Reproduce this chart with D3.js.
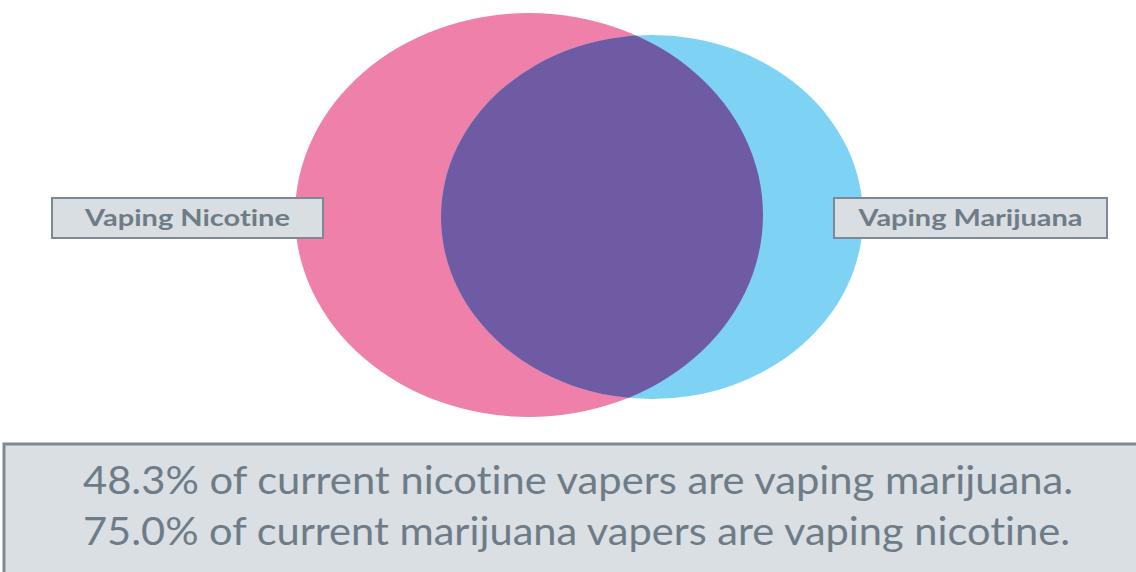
<!DOCTYPE html>
<html>
<head>
<meta charset="utf-8">
<script src="https://cdn.jsdelivr.net/npm/d3@7"></script>
<style>
  html, body { margin: 0; padding: 0; background: #ffffff; }
  svg { display: block; }
  text { font-variant-ligatures: none; font-feature-settings: "liga" 0, "clig" 0; }
</style>
</head>
<body>
<svg id="chart" width="1136" height="572"></svg>
<script>
// ---- data ----
const setNames = ["Vaping Nicotine", "Vaping Marijuana"];
const setColors = ["#EE80AA", "#7ED3F5"];
const overlapColor = "#6F5BA4";
const overlapPercents = [48.3, 75.0];
const statementSubjects = ["nicotine", "marijuana"];
const statementObjects = ["marijuana", "nicotine"];

// ---- layout ----
const svg = d3.select("#chart");
const W = 1136, H = 572;

// ellipse geometry for the two sets (layout only)
const ellipses = [
  { cx: 529, cy: 215, rx: 234, ry: 202 },
  { cx: 652, cy: 217, rx: 211, ry: 182 }
];

const defs = svg.append("defs");
defs.append("clipPath").attr("id", "clipA")
  .append("ellipse")
  .attr("cx", ellipses[0].cx).attr("cy", ellipses[0].cy)
  .attr("rx", ellipses[0].rx).attr("ry", ellipses[0].ry);

const g = svg.append("g");
g.selectAll("ellipse.set")
  .data(setNames)
  .join("ellipse")
  .attr("class", "set")
  .attr("cx", (d, i) => ellipses[i].cx)
  .attr("cy", (d, i) => ellipses[i].cy)
  .attr("rx", (d, i) => ellipses[i].rx)
  .attr("ry", (d, i) => ellipses[i].ry)
  .attr("fill", (d, i) => setColors[i]);

// overlap region = set B clipped by set A
g.append("ellipse")
  .attr("cx", ellipses[1].cx).attr("cy", ellipses[1].cy)
  .attr("rx", ellipses[1].rx).attr("ry", ellipses[1].ry)
  .attr("clip-path", "url(#clipA)")
  .attr("fill", overlapColor);

// label boxes
const labelBoxes = [
  { x: 52, y: 198, w: 271, h: 40, tw: 205 },
  { x: 834, y: 198, w: 273, h: 40, tw: 224 }
];
const lab = svg.selectAll("g.lab")
  .data(setNames)
  .join("g").attr("class", "lab");
lab.append("rect")
  .attr("x", (d, i) => labelBoxes[i].x)
  .attr("y", (d, i) => labelBoxes[i].y)
  .attr("width", (d, i) => labelBoxes[i].w)
  .attr("height", (d, i) => labelBoxes[i].h)
  .attr("fill", "#D9DEE2")
  .attr("stroke", "#7D8A95")
  .attr("stroke-width", 2);
lab.append("text")
  .attr("x", (d, i) => labelBoxes[i].x + labelBoxes[i].w / 2)
  .attr("y", (d, i) => labelBoxes[i].y + labelBoxes[i].h / 2 + 8)
  .attr("text-anchor", "middle")
  .attr("textLength", (d, i) => labelBoxes[i].tw)
  .attr("lengthAdjust", "spacingAndGlyphs")
  .attr("font-family", "Lato, 'Open Sans', sans-serif")
  .attr("font-weight", "bold")
  .attr("font-size", 22)
  .attr("fill", "#6E7C87")
  .text(d => d);

// bottom statement box
svg.append("rect")
  .attr("x", 4).attr("y", 444)
  .attr("width", W + 10).attr("height", 200)
  .attr("fill", "#D9DFE3")
  .attr("stroke", "#7D8A95")
  .attr("stroke-width", 3);

const fmt = d3.format(".1f");
const statements = overlapPercents.map((p, i) =>
  `${fmt(p)}% of current ${statementSubjects[i]} vapers are vaping ${statementObjects[i]}.`);
svg.selectAll("text.stmt")
  .data(statements)
  .join("text")
  .attr("class", "stmt")
  .attr("x", 83)
  .attr("y", (d, i) => 494 + i * 51)
  .attr("textLength", (d, i) => i === 0 ? 990 : 987)
  .attr("lengthAdjust", "spacingAndGlyphs")
  .attr("font-family", "Lato, 'Open Sans', sans-serif")
  .attr("font-size", 39)
  .attr("fill", "#6E7C87")
  .text(d => d);
</script>
</body>
</html>
